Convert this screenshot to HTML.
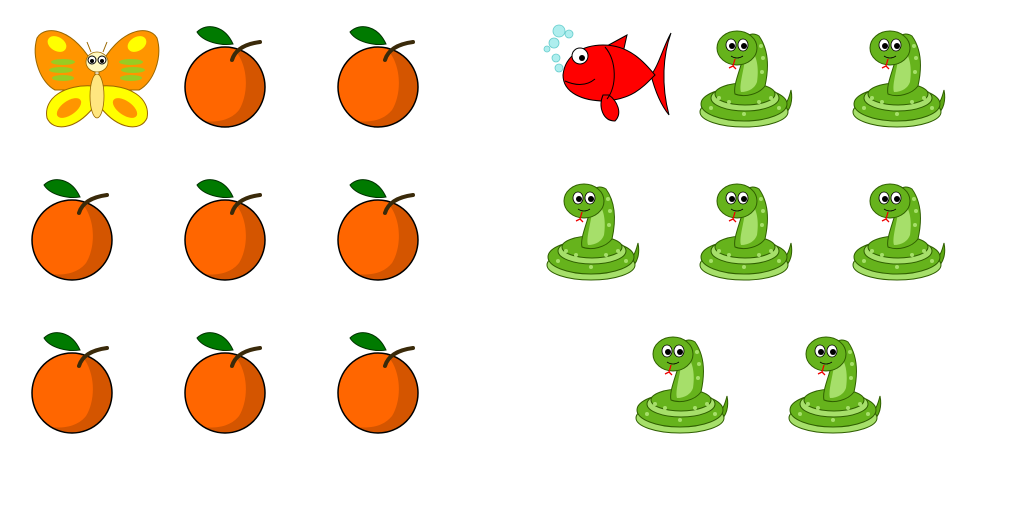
<!DOCTYPE html>
<html><head><meta charset="utf-8"><style>
html,body{margin:0;padding:0;background:#fff;width:1024px;height:512px;overflow:hidden}
svg{display:block}
</style></head><body>
<svg id="scene" width="1024" height="512" viewBox="0 0 1024 512" xmlns="http://www.w3.org/2000/svg">
<defs>
<clipPath id="oc"><circle cx="40" cy="65" r="40"/></clipPath>
<symbol id="orange" overflow="visible">
  <circle cx="40" cy="65" r="40" fill="#ff6600"/>
  <path d="M48,26 C64,42 64,72 54,88 C46,98 32,102 10,98 L10,120 L100,120 L100,20 Z" fill="#d45500" clip-path="url(#oc)"/>
  <circle cx="40" cy="65" r="40" fill="none" stroke="#000" stroke-width="1.5"/>
  <path d="M47,38 C50,28 60,22 75,20" stroke="#3a2a0a" stroke-width="4" fill="none" stroke-linecap="round"/>
  <path d="M12,10 C22,0 40,4 48,22 C36,24 18,20 12,10 Z" fill="#007a00" stroke="#003300" stroke-width="1"/>
</symbol>
<symbol id="snake" overflow="visible">
  <path d="M82,80 C88,76 90,70 92,62 C94,72 92,82 84,88 Z" fill="#5ea814" stroke="#2f5f00" stroke-width="1"/>
  <ellipse cx="45" cy="84" rx="44" ry="15" fill="#a6df6a" stroke="#2f5f00" stroke-width="1"/>
  <ellipse cx="45" cy="76" rx="43" ry="17" fill="#66b31c" stroke="#2f5f00" stroke-width="1"/>
  <ellipse cx="46" cy="70" rx="34" ry="13" fill="#a6df6a" stroke="#2f5f00" stroke-width="1"/>
  <ellipse cx="46" cy="66" rx="30" ry="11" fill="#66b31c" stroke="#2f5f00" stroke-width="1"/>
  <path d="M44,30 C40,45 34,58 36,66 C46,70 60,66 66,58 C70,40 70,22 60,8 C50,2 40,10 44,30 Z" fill="#66b31c" stroke="#2f5f00" stroke-width="1"/>
  <path d="M46,32 C44,45 40,58 42,64 C50,64 56,60 58,54 C60,40 58,28 52,22 Z" fill="#a6df6a"/>
  <ellipse cx="38" cy="20" rx="20" ry="17" fill="#66b31c" stroke="#2f5f00" stroke-width="1"/>
  <ellipse cx="32" cy="17" rx="5" ry="6" fill="#fff" stroke="#000" stroke-width="0.8"/>
  <ellipse cx="44" cy="17" rx="5" ry="6" fill="#fff" stroke="#000" stroke-width="0.8"/>
  <circle cx="33" cy="18" r="3" fill="#000"/><circle cx="45" cy="18" r="3" fill="#000"/>
  <path d="M32,28 Q38,32 44,28" stroke="#000" fill="none" stroke-width="0.8"/>
  <path d="M36,31 L34,38 M34,38 L30,40 M34,38 L37,41" stroke="#e00" stroke-width="1.3" fill="none"/>
  <g fill="#a6df6a"><circle cx="62" cy="18" r="2"/><circle cx="64" cy="30" r="2"/><circle cx="63" cy="44" r="2"/><circle cx="20" cy="70" r="2"/><circle cx="30" cy="74" r="2"/><circle cx="60" cy="74" r="2"/><circle cx="72" cy="70" r="2"/><circle cx="12" cy="80" r="2"/><circle cx="45" cy="86" r="2"/><circle cx="80" cy="80" r="2"/></g>
</symbol>
</defs>
<g id="layer"></g>
<g transform="translate(35,28)">
  <path d="M60,40 C40,0 10,-4 2,10 C-4,30 6,55 20,62 L60,62 Z" fill="#ff9500" stroke="#996600" stroke-width="1"/>
  <path d="M64,40 C84,0 114,-4 122,10 C128,30 118,55 104,62 L64,62 Z" fill="#ff9500" stroke="#996600" stroke-width="1"/>
  <path d="M58,58 C30,56 8,70 12,90 C18,104 40,102 58,80 Z" fill="#ffff00" stroke="#996600" stroke-width="1"/>
  <path d="M66,58 C94,56 116,70 112,90 C106,104 84,102 66,80 Z" fill="#ffff00" stroke="#996600" stroke-width="1"/>
  <ellipse cx="22" cy="16" rx="10" ry="7" fill="#ffff00" transform="rotate(30 22 16)"/>
  <ellipse cx="102" cy="16" rx="10" ry="7" fill="#ffff00" transform="rotate(-30 102 16)"/>
  <ellipse cx="34" cy="80" rx="14" ry="7" fill="#ff9500" transform="rotate(-35 34 80)"/>
  <ellipse cx="90" cy="80" rx="14" ry="7" fill="#ff9500" transform="rotate(35 90 80)"/>
  <g fill="#99cc22"><ellipse cx="28" cy="34" rx="12" ry="3"/><ellipse cx="26" cy="42" rx="12" ry="3"/><ellipse cx="28" cy="50" rx="11" ry="3"/><ellipse cx="96" cy="34" rx="12" ry="3"/><ellipse cx="98" cy="42" rx="12" ry="3"/><ellipse cx="96" cy="50" rx="11" ry="3"/></g>
  <ellipse cx="62" cy="68" rx="7" ry="22" fill="#ffe680" stroke="#996600" stroke-width="0.8"/>
  <ellipse cx="62" cy="34" rx="11" ry="10" fill="#fff8c0" stroke="#996600" stroke-width="0.8"/>
  <circle cx="57" cy="32" r="4" fill="#fff" stroke="#000"/><circle cx="67" cy="32" r="4" fill="#fff" stroke="#000"/>
  <circle cx="57" cy="33" r="2" fill="#000"/><circle cx="67" cy="33" r="2" fill="#000"/>
  <path d="M56,24 L52,14 M68,24 L72,14" stroke="#996600" stroke-width="1"/>
</g>
<g transform="translate(543,25)">
  <g fill="#aeeeee" stroke="#66cccc" stroke-width="0.8"><circle cx="16" cy="6" r="6"/><circle cx="26" cy="9" r="4"/><circle cx="11" cy="18" r="5"/><circle cx="4" cy="24" r="3"/><circle cx="13" cy="33" r="4"/><circle cx="16" cy="43" r="4"/></g>
  <path d="M62,22 L84,10 L80,28 Z" fill="#ff0000" stroke="#000" stroke-width="1"/>
  <path d="M108,50 C116,40 120,22 128,8 C120,30 118,60 126,90 C118,80 112,66 108,50 Z" fill="#ff0000" stroke="#000" stroke-width="1"/>
  <path d="M20,50 C22,30 40,20 60,20 C86,20 100,36 112,50 C100,62 90,74 62,76 C40,76 20,68 20,50 Z" fill="#ff0000" stroke="#000" stroke-width="1"/>
  <path d="M60,70 C55,82 60,96 72,96 C80,88 74,76 66,70 Z" fill="#ff0000" stroke="#000" stroke-width="1"/>
  <path d="M62,22 C74,36 74,62 64,74" fill="none" stroke="#000" stroke-width="1"/>
  <path d="M22,56 Q40,64 52,54" fill="none" stroke="#000" stroke-width="1"/>
  <circle cx="37" cy="31" r="8" fill="#fff" stroke="#000"/><circle cx="39" cy="33" r="3" fill="#000"/>
</g>
</svg>
<script>
const orangeX=[185,338,32,185,338,32,185,338];
const orangeY=[22,22,175,175,175,328,328,328];
const snakeX=[699,852,546,699,852,635,788];
const snakeY=[28,28,181,181,181,334,334];
const layer=document.getElementById('layer');
const NS='http://www.w3.org/2000/svg';
orangeX.forEach((x,i)=>{
  const u=document.createElementNS(NS,'use');
  u.setAttribute('href','#orange');
  u.setAttribute('x',x);u.setAttribute('y',orangeY[i]);
  
  
  layer.appendChild(u);
});
snakeX.forEach((x,i)=>{
  const u=document.createElementNS(NS,'use');
  u.setAttribute('href','#snake');
  u.setAttribute('x',x);u.setAttribute('y',snakeY[i]);
  
  
  layer.appendChild(u);
});
</script>
</body></html>
